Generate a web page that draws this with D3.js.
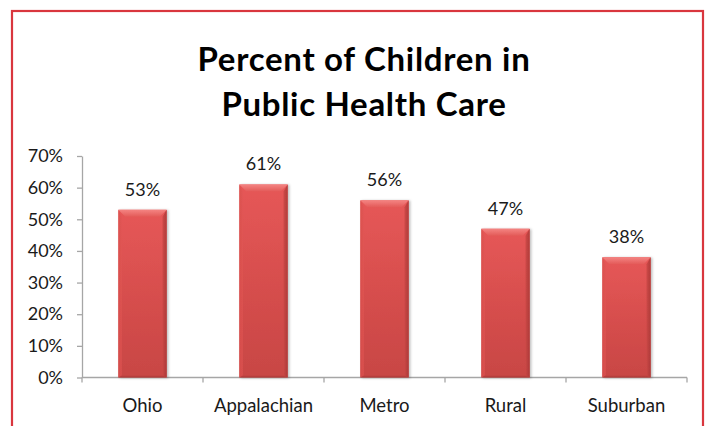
<!DOCTYPE html>
<html>
<head>
<meta charset="utf-8">
<script src="https://cdn.jsdelivr.net/npm/d3@7"></script>
<style>
  html, body { margin: 0; padding: 0; background: #fff; }
  svg { display: block; }
  text { font-family: Lato, "Open Sans", sans-serif; fill: #1a1a1a; }
</style>
</head>
<body>
<svg id="chart" width="707" height="426"></svg>
<script>
// Share of children covered by public health care, by region
const categories = ["Ohio", "Appalachian", "Metro", "Rural", "Suburban"];
const values = [53, 61, 56, 47, 38];
const yTicks = [0, 10, 20, 30, 40, 50, 60, 70];
const titleLines = ["Percent of Children in", "Public Health Care"];

const svg = d3.select("#chart");
const plot = { left: 82, right: 687, top: 156, bottom: 377.5 };

// Frame
svg.append("rect")
  .attr("x", 12).attr("y", 11)
  .attr("width", 691).attr("height", 440)
  .attr("fill", "#fff")
  .attr("stroke", "#d9363e").attr("stroke-width", 2.2);

// Gradients for the bevelled bars
const defs = svg.append("defs");
function grad(id, x2, y2, stops) {
  const g = defs.append("linearGradient").attr("id", id)
    .attr("x1", 0).attr("y1", 0).attr("x2", x2).attr("y2", y2);
  stops.forEach(([o, c]) => g.append("stop").attr("offset", o).attr("stop-color", c));
}
grad("barBody", 0, 1, [[0, "#e65757"], [1, "#c84644"]]);
grad("bevelTop", 0, 1, [[0, "#f48482"], [1, "#e35a58"]]);
grad("bevelLeft", 1, 0, [[0, "#d84e4c"], [1, "#e05553"]]);
grad("bevelRight", 1, 0, [[0, "#c94745"], [1, "#a83836"]]);
grad("bevelBottom", 0, 1, [[0, "#b83f3d"], [1, "#9c3331"]]);
const shadow = defs.append("filter").attr("id", "shadow")
  .attr("x", "-20%").attr("y", "-10%").attr("width", "140%").attr("height", "120%");
shadow.append("feDropShadow").attr("dx", 1.5).attr("dy", 0.5)
  .attr("stdDeviation", 1.2).attr("flood-color", "#000").attr("flood-opacity", 0.25);

const x = d3.scaleBand()
  .domain(categories)
  .range([plot.left, plot.right])
  .paddingInner(0.6)
  .paddingOuter(0.3);

const y = d3.scaleLinear()
  .domain([0, 70])
  .range([plot.bottom, plot.top]);

// Title
const title = svg.append("text")
  .attr("text-anchor", "middle")
  .style("font-weight", "bold")
  .style("font-size", "33px")
  .style("letter-spacing", "0.7px")
  .style("fill", "#000");
titleLines.forEach((t, i) => {
  title.append("tspan").attr("x", 364).attr("y", 71 + i * 45).text(t);
});

// Y axis
const yAxis = svg.append("g")
  .attr("transform", `translate(${plot.left},0)`)
  .call(d3.axisLeft(y).tickValues(yTicks).tickFormat(d => d + "%")
    .tickSizeInner(5).tickSizeOuter(0).tickPadding(14));
yAxis.select(".domain").attr("stroke", "#a6a6a6").attr("stroke-width", 1.3);
yAxis.selectAll(".tick line").attr("stroke", "#a6a6a6").attr("stroke-width", 1.3);
yAxis.selectAll(".tick text")
  .style("font-size", "18px").style("font-family", "Lato, sans-serif")
  .attr("fill", "#1a1a1a");

// X axis: category boundaries carry the ticks
const xAxis = svg.append("g")
  .attr("transform", `translate(0,${plot.bottom})`);
xAxis.append("line")
  .attr("x1", plot.left).attr("x2", plot.right)
  .attr("stroke", "#a6a6a6").attr("stroke-width", 1.3);
const bounds = d3.range(categories.length + 1)
  .map(i => plot.left + i * x.step());
xAxis.selectAll(".bound").data(bounds).join("line")
  .attr("class", "bound")
  .attr("x1", d => d).attr("x2", d => d)
  .attr("y1", 0).attr("y2", 5)
  .attr("stroke", "#a6a6a6").attr("stroke-width", 1.3);
xAxis.selectAll(".cat").data(categories).join("text")
  .attr("class", "cat")
  .attr("x", d => x(d) + x.bandwidth() / 2)
  .attr("y", 34.5)
  .attr("text-anchor", "middle")
  .style("font-size", "18.5px")
  .text(d => d);

// Bars
const data = categories.map((c, i) => ({ c, v: values[i] }));
const bev = 7;
const bars = svg.selectAll(".bar").data(data).join("g")
  .attr("class", "bar")
  .attr("filter", "url(#shadow)");

bars.append("rect")
  .attr("x", d => x(d.c)).attr("y", d => y(d.v))
  .attr("width", x.bandwidth())
  .attr("height", d => y(0) - y(d.v))
  .attr("fill", "url(#barBody)");

function poly(pts) { return pts.map(p => p.join(",")).join(" "); }
bars.append("polygon")
  .attr("fill", "url(#bevelTop)")
  .attr("points", d => {
    const x0 = x(d.c), x1 = x0 + x.bandwidth(), t = y(d.v);
    return poly([[x0, t], [x1, t], [x1 - bev, t + bev], [x0 + bev, t + bev]]);
  });
bars.append("polygon")
  .attr("fill", "url(#bevelLeft)").attr("opacity", 0.7)
  .attr("points", d => {
    const x0 = x(d.c), t = y(d.v), b = y(0);
    return poly([[x0, t], [x0 + bev * 0.5, t + bev], [x0 + bev * 0.5, b - 2], [x0, b]]);
  });
bars.append("polygon")
  .attr("fill", "url(#bevelRight)").attr("opacity", 0.85)
  .attr("points", d => {
    const x1 = x(d.c) + x.bandwidth(), t = y(d.v), b = y(0);
    return poly([[x1, t], [x1, b], [x1 - bev * 0.6, b - 2], [x1 - bev * 0.6, t + bev]]);
  });
bars.append("polygon")
  .attr("fill", "url(#bevelBottom)").attr("opacity", 0.6)
  .attr("points", d => {
    const x0 = x(d.c), x1 = x0 + x.bandwidth(), b = y(0);
    return poly([[x0, b], [x1, b], [x1 - bev * 0.6, b - 2], [x0 + bev * 0.5, b - 2]]);
  });

// Value labels above the bars
svg.selectAll(".val").data(data).join("text")
  .attr("class", "val")
  .attr("x", d => x(d.c) + x.bandwidth() / 2)
  .attr("y", d => y(d.v) - 14)
  .attr("text-anchor", "middle")
  .style("font-size", "18px")
  .text(d => d.v + "%");
</script>
</body>
</html>
